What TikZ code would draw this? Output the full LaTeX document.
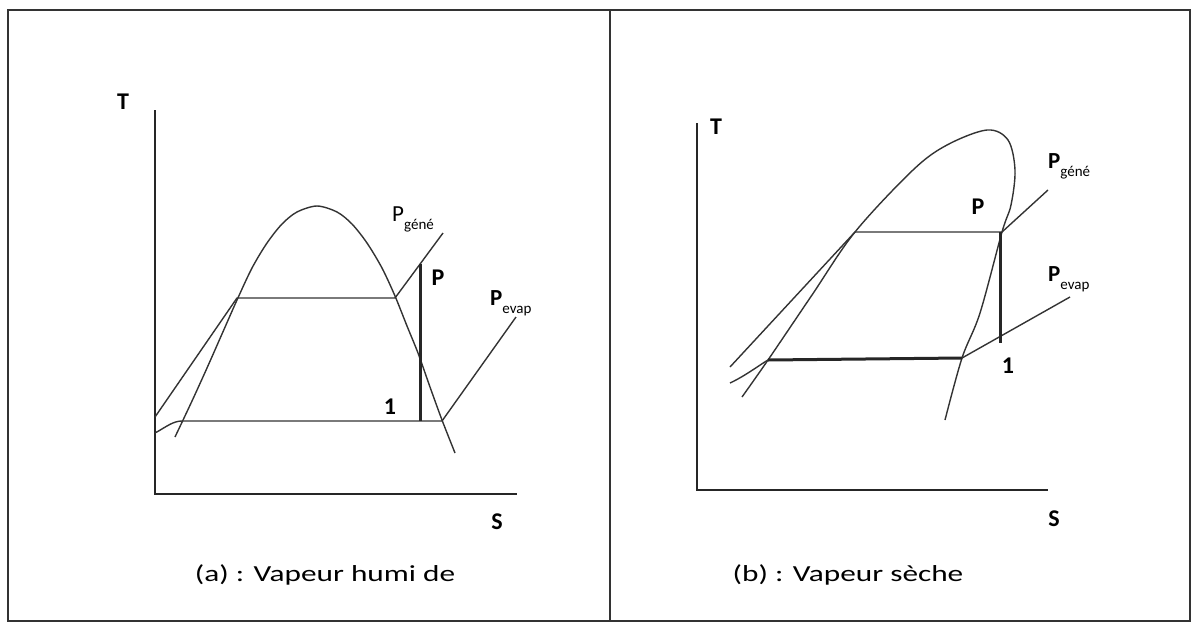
\documentclass[tikz,border=0pt]{standalone}
\usepackage{fontspec}
\usepackage{graphicx}
\setmainfont{Carlito}
\tikzset{
  frameline/.style={line width=2pt, draw=black!80},
  axisline/.style={line width=1.8pt, draw=black!85},
  curveline/.style={line width=1.4pt, draw=black!80},
  thickline/.style={line width=3pt, draw=black!85},
  lbl/.style={font=\fontsize{24}{26}\selectfont\bfseries, inner sep=0pt},
  plbl/.style={font=\fontsize{23}{26}\selectfont, inner sep=0pt, anchor=base west},
  caption/.style={font=\fontsize{23}{26}\selectfont, inner sep=0pt}
}
\newcommand{\subtxt}[1]{\raisebox{-0.35em}{\fontsize{15}{17}\selectfont #1}}
\begin{document}
\begin{tikzpicture}[x=1pt,y=-1pt]
\useasboundingbox (0,0) rectangle (1195,622);
% frame
\draw[frameline] (8,10) rectangle (1190,621);
\coordinate (dtop) at (610,10);
\coordinate (dbot) at (610,621);
\draw[frameline] (dtop) -- (dbot);

% ---------------- panel (a) ----------------
\coordinate (aO) at (155,494);
\coordinate (aY) at (155,110);
\coordinate (aX) at (517,494);
\draw[axisline] (aY) -- (aO) -- (aX);
\node[lbl] (aT) at (123,102) {T};
\node[lbl] (aS) at (497,522) {S};

% dome
\draw[curveline] plot[smooth, tension=0.5] coordinates {(175,437) (192,401) (207,368) (222,334) (237,300) (252,268) (267,243) (282,224) (297,212) (317,206) (337,212) (352,224) (367,243) (382,268) (395,296) (407,326) (418,353) (430,387) (442,420) (455,453)};
% isobar P gene
\coordinate (ag0) at (155,417);
\coordinate (ag1) at (237,298);
\coordinate (ag2) at (395,298);
\coordinate (ag3) at (443,233);
\draw[curveline] (ag0) -- (ag1) -- (ag2) -- (ag3);
% isobar P evap
\coordinate (ae0) at (155,433);
\coordinate (ae1) at (182,421);
\coordinate (ae2) at (442,421);
\coordinate (ae3) at (516,317);
\draw[curveline] (ae0) .. controls (166,427) and (173,421) .. (ae1) -- (ae2) -- (ae3);
% compression
\coordinate (a1) at (420,421);
\coordinate (aP) at (420,264);
\draw[thickline] (a1) -- (aP);
\node[lbl] (aPl) at (438,278) {P};
\node[lbl] (a1l) at (390,407) {1};
\node[plbl] (apg) at (392,221) {P\subtxt{géné}};
\node[plbl] (ape) at (490,305) {\textbf{P}\subtxt{evap}};

% ---------------- panel (b) ----------------
\coordinate (bO) at (697,490);
\coordinate (bY) at (697,123);
\coordinate (bX) at (1048,490);
\draw[axisline] (bY) -- (bO) -- (bX);
\node[lbl] (bT) at (716,127) {T};
\node[lbl] (bS) at (1054,519) {S};

% dome
\draw[curveline] plot[smooth, tension=0.55] coordinates {(742,397) (768,360) (812,295) (855,232) (913,170) (947,145) (987,130) (1008,140) (1015,170) (1011,205) (1002,232) (980,313) (962,358) (945,420)};
% isobar P gene
\coordinate (bg0) at (730,367);
\coordinate (bg1) at (855,232);
\coordinate (bg2) at (1002,232);
\coordinate (bg3) at (1048,190);
\draw[curveline] (bg0) -- (bg1) -- (bg2) -- (bg3);
% isobar P evap
\coordinate (be0) at (730,383);
\coordinate (be1) at (768,360);
\coordinate (be2) at (962,358);
\coordinate (be3) at (1070,297);
\draw[curveline] (be0) .. controls (745,376) and (758,366) .. (be1);
\draw[thickline] (be1) -- (be2);
\draw[curveline] (be2) -- (be3);
% compression
\coordinate (bP) at (1000,232);
\coordinate (b1) at (1000,343);
\draw[thickline] (bP) -- (b1);
\node[lbl] (bPl) at (978,207) {P};
\node[lbl] (b1l) at (1008,366) {1};
\node[plbl] (bpg) at (1048,168) {\textbf{P}\subtxt{géné}};
\node[plbl] (bpe) at (1048,281) {\textbf{P}\subtxt{evap}};

% captions
\node[caption] (capa) at (325,575) {\scalebox{1.36}[1]{(a) : Vapeur humi de}};
\node[caption] (capb) at (848,575) {\scalebox{1.36}[1]{(b) : Vapeur sèche}};
\end{tikzpicture}
\end{document}
